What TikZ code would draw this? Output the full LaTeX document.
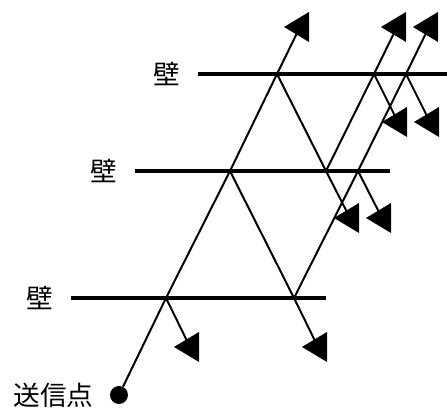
\documentclass[tikz,border=0pt]{standalone}
\usepackage{fontspec}
\newfontfamily\jpfont{Noto Sans CJK JP}
\usetikzlibrary{positioning}

\begin{document}
\begin{tikzpicture}[
    x=0.75pt, y=-0.75pt,
    wall/.style={line width=3pt},
    ray/.style={line width=1.5pt},
    lbl/.style={font=\jpfont\fontsize{20}{24}\selectfont, inner sep=0pt},
    src/.style={circle, fill, minimum size=13.5pt, inner sep=0pt},
    arrowhead/.pic={\fill (-16,0) -- (9,-15) -- (9,15) -- cycle;},
    node distance=13pt,
]
\useasboundingbox (0,0) rectangle (447,409);

\coordinate (wt0) at (198,74);  \coordinate (wt1) at (447,74);
\coordinate (wm0) at (135,171); \coordinate (wm1) at (390,171);
\coordinate (wb0) at (71,298);  \coordinate (wb1) at (326,298);
\draw[wall] (wt0) -- (wt1);
\draw[wall] (wm0) -- (wm1);
\draw[wall] (wb0) -- (wb1);
\node[lbl, left=of wt0] (lt) {壁};
\node[lbl, left=of wm0] (lm) {壁};
\node[lbl, left=of wb0] (lb) {壁};

\node[src] (s) at (119,395) {};
\node[lbl, left=12pt of s] (ls) {送信点};

\coordinate (b1) at (166,298);
\coordinate (b2) at (294,298);
\coordinate (m1) at (230,171);
\coordinate (m2) at (326,171);
\coordinate (m3) at (358,171);
\coordinate (t1) at (277,74);
\coordinate (t2) at (374,74);
\coordinate (t3) at (406,74);

\coordinate (a1) at (190,347);
\coordinate (a2) at (318,347);
\coordinate (a3) at (300,27);
\coordinate (a4) at (397,27);
\coordinate (a5) at (429,27);
\coordinate (a6) at (398,122);
\coordinate (a7) at (430,122);
\coordinate (a8) at (350,218);
\coordinate (a9) at (382,218);

\draw[ray] (s) -- (b1) -- (m1) -- (t1) -- (a3);
\draw[ray] (b1) -- (a1);
\draw[ray] (m1) -- (b2) -- (a2);
\draw[ray] (t1) -- (m2) -- (a8);
\draw[ray] (m2) -- (t2) -- (a4);
\draw[ray] (t2) -- (a6);
\draw[ray] (b2) -- (m3) -- (t3) -- (a5);
\draw[ray] (m3) -- (a9);
\draw[ray] (t3) -- (a7);

\foreach \i in {1,...,9}
  \pic at (a\i) {arrowhead};
\end{tikzpicture}
\end{document}
